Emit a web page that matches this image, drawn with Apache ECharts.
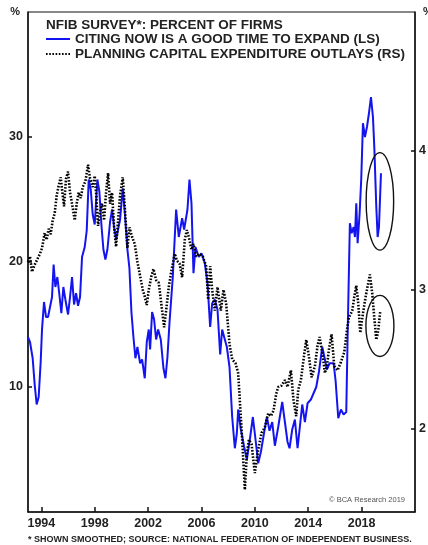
<!DOCTYPE html>
<html>
<head>
<meta charset="utf-8">
<script src="https://cdn.jsdelivr.net/npm/echarts@6/dist/echarts.min.js"></script>
<style>
html,body{margin:0;padding:0;background:#fff;}
#c{width:428px;height:545px;}
</style>
</head>
<body>
<div id="c"></div>
<script>
// ---- DATA ----
const titleText = 'NFIB SURVEY*: PERCENT OF FIRMS';
const expandName = 'CITING NOW IS A GOOD TIME TO EXPAND (LS)';
const capexName = 'PLANNING CAPITAL EXPENDITURE OUTLAYS (RS)';
const footText = '* SHOWN SMOOTHED; SOURCE: NATIONAL FEDERATION OF INDEPENDENT BUSINESS.';
const creditText = '\u00A9 BCA Research 2019';

const yearTicks = [1994, 1998, 2002, 2006, 2010, 2014, 2018];
const leftTicks = [10, 20, 30];
const rightTicks = [2, 3, 4];

// Good time to expand (LS, %)
const expandX = [1993.00,1993.15,1993.35,1993.50,1993.65,1993.80,1993.95,1994.05,1994.20,1994.35,1994.50,1994.65,1994.80,1994.92,1995.05,1995.20,1995.35,1995.50,1995.65,1995.80,1996.00,1996.15,1996.30,1996.45,1996.60,1996.75,1996.90,1997.05,1997.25,1997.40,1997.55,1997.70,1997.85,1998.00,1998.20,1998.35,1998.50,1998.65,1998.80,1998.95,1999.15,1999.30,1999.45,1999.60,1999.75,1999.90,2000.10,2000.25,2000.45,2000.60,2000.75,2000.90,2001.05,2001.20,2001.40,2001.55,2001.75,2001.90,2002.05,2002.15,2002.30,2002.45,2002.60,2002.75,2002.95,2003.15,2003.30,2003.45,2003.60,2003.85,2004.10,2004.30,2004.55,2004.70,2004.95,2005.10,2005.25,2005.40,2005.55,2005.80,2006.00,2006.25,2006.45,2006.65,2006.80,2007.00,2007.20,2007.40,2007.55,2007.75,2007.90,2008.10,2008.30,2008.50,2008.65,2008.75,2008.95,2009.20,2009.40,2009.65,2009.85,2010.05,2010.25,2010.45,2010.70,2010.90,2011.10,2011.30,2011.50,2011.75,2012.05,2012.25,2012.45,2012.60,2012.80,2013.00,2013.20,2013.40,2013.55,2013.75,2013.95,2014.20,2014.40,2014.60,2014.80,2015.05,2015.25,2015.40,2015.60,2015.90,2016.05,2016.25,2016.45,2016.65,2016.85,2016.95,2017.05,2017.12,2017.25,2017.40,2017.50,2017.60,2017.70,2017.85,2017.97,2018.10,2018.25,2018.40,2018.55,2018.70,2018.85,2018.95,2019.10,2019.20,2019.30,2019.45];
const expandY = [14.0,13.6,12.3,10.2,8.6,9.2,12.0,14.6,16.8,15.6,15.6,16.4,17.2,19.8,18.0,18.8,17.4,15.9,18.0,17.0,15.8,17.2,18.8,16.6,17.5,16.5,17.2,20.4,21.2,22.5,26.6,25.8,23.8,23.0,26.6,25.6,23.0,21.0,20.2,21.0,23.2,24.2,22.8,21.8,22.6,23.4,25.9,24.0,21.0,19.5,16.0,14.0,12.3,13.2,11.9,12.2,10.7,13.6,14.6,13.0,16.0,15.4,13.8,14.6,13.8,11.5,10.7,12.4,15.1,18.8,24.2,22.0,23.5,22.6,24.2,26.6,24.7,19.1,21.2,20.4,20.7,19.9,18.3,14.8,16.7,17.0,16.2,12.6,14.6,13.8,13.2,11.6,7.6,5.1,6.3,8.2,6.6,5.2,4.2,6.0,7.6,5.8,3.9,4.8,6.4,7.6,6.5,7.2,5.3,6.8,8.8,7.2,5.6,5.1,6.6,7.4,5.1,7.1,8.6,7.2,8.7,9.0,9.5,10.0,11.2,13.2,12.2,11.4,11.9,11.9,10.5,7.5,8.2,7.8,8.0,14.0,19.4,23.1,22.3,22.8,22.0,24.7,21.5,23.9,26.6,31.1,30.0,30.8,31.9,33.2,31.6,29.2,24.4,22.0,22.8,27.1];

// Capital expenditure plans (RS, %)
const capexX = [1993.00,1993.15,1993.30,1993.50,1993.70,1993.90,1994.05,1994.25,1994.40,1994.55,1994.70,1994.85,1995.00,1995.15,1995.30,1995.45,1995.55,1995.70,1995.85,1996.00,1996.15,1996.30,1996.50,1996.65,1996.80,1996.95,1997.10,1997.30,1997.50,1997.65,1997.85,1998.00,1998.10,1998.25,1998.40,1998.55,1998.70,1998.85,1999.00,1999.15,1999.30,1999.45,1999.60,1999.75,1999.90,2000.10,2000.25,2000.45,2000.60,2000.80,2001.00,2001.20,2001.40,2001.60,2001.75,2001.90,2002.05,2002.25,2002.40,2002.60,2002.80,2002.95,2003.20,2003.35,2003.55,2003.75,2004.00,2004.15,2004.35,2004.55,2004.75,2004.90,2005.05,2005.25,2005.40,2005.60,2005.85,2006.10,2006.35,2006.50,2006.65,2006.80,2007.00,2007.20,2007.45,2007.65,2007.85,2008.10,2008.30,2008.55,2008.75,2008.90,2009.05,2009.25,2009.40,2009.55,2009.75,2010.00,2010.25,2010.50,2010.75,2011.00,2011.20,2011.40,2011.60,2011.75,2012.00,2012.25,2012.45,2012.70,2012.90,2013.10,2013.25,2013.45,2013.65,2013.85,2014.05,2014.25,2014.50,2014.70,2014.85,2015.05,2015.25,2015.40,2015.55,2015.75,2015.95,2016.20,2016.45,2016.70,2016.90,2017.05,2017.30,2017.45,2017.60,2017.75,2017.90,2018.10,2018.30,2018.50,2018.62,2018.80,2018.95,2019.10,2019.25,2019.40];
const capexY = [3.20,3.24,3.13,3.18,3.22,3.26,3.30,3.41,3.36,3.44,3.40,3.50,3.55,3.68,3.75,3.81,3.72,3.60,3.80,3.85,3.70,3.62,3.50,3.62,3.70,3.66,3.74,3.78,3.90,3.80,3.74,3.82,3.70,3.46,3.56,3.62,3.50,3.70,3.84,3.62,3.70,3.45,3.31,3.50,3.68,3.81,3.60,3.30,3.45,3.38,3.33,3.20,3.10,3.00,2.95,2.89,3.00,3.10,3.15,3.07,3.05,2.93,2.73,2.85,3.02,3.14,3.26,3.21,3.19,3.09,3.36,3.43,3.38,3.29,3.33,3.24,3.26,3.24,3.17,2.93,3.17,3.00,2.85,3.02,2.85,3.00,2.90,2.61,2.50,2.47,2.40,2.16,1.92,1.56,1.82,1.92,1.89,1.68,1.85,1.97,2.01,2.11,2.09,2.13,2.25,2.30,2.31,2.35,2.30,2.42,2.20,2.09,2.28,2.35,2.50,2.64,2.52,2.37,2.45,2.60,2.66,2.55,2.40,2.45,2.57,2.68,2.45,2.42,2.48,2.55,2.71,2.80,2.85,2.95,3.03,2.90,2.69,2.83,2.95,3.05,3.11,2.97,2.80,2.64,2.71,2.85];

// Highlight ellipses: [centerYear, centerValue, halfWidthYears, halfHeightValue]
const expandCircle = [[2019.37, 24.85, 1.03, 3.9]];
const capexCircle = [[2019.37, 2.74, 1.05, 0.22]];

// ---- CHART ----
const zip = (xs, ys) => xs.map((x, i) => [x, ys[i]]);
const chart = echarts.init(document.getElementById('c'), null, {renderer: 'canvas'});
const FONT = 'Liberation Sans, Arial, sans-serif';
const ellipseRender = function (params, api) {
  const c = api.coord([api.value(0), api.value(1)]);
  const r = api.coord([api.value(0) + api.value(2), api.value(1) + api.value(3)]);
  return {
    type: 'ellipse',
    shape: {cx: c[0], cy: c[1], rx: Math.abs(r[0] - c[0]), ry: Math.abs(c[1] - r[1])},
    style: {fill: 'none', stroke: '#111', lineWidth: 1.4}
  };
};

chart.setOption({
  animation: false,
  backgroundColor: '#fff',
  textStyle: {fontFamily: FONT},
  title: [
    {text: titleText, left: 46, top: 18, padding: 0,
     textStyle: {fontSize: 13.5, fontWeight: 'bold', color: '#222', fontFamily: FONT}},
    {text: creditText, right: 23, top: 496, padding: 0,
     textStyle: {fontSize: 7.5, fontWeight: 'normal', color: '#555', fontFamily: FONT}},
    {text: footText, left: 28, top: 535, padding: 0,
     textStyle: {fontSize: 9, fontWeight: 'bold', color: '#222', fontFamily: FONT}}
  ],
  legend: {
    orient: 'vertical', left: 45, top: 32, padding: 0,
    itemWidth: 24, itemHeight: 10, itemGap: 1,
    itemStyle: {opacity: 0},
    textStyle: {fontSize: 13.5, lineHeight: 14, fontWeight: 'bold', color: '#222', fontFamily: FONT, padding: [0, 0, 0, 0]},
    data: [expandName, capexName]
  },
  grid: {left: 28, right: 13, top: 12, bottom: 33, show: true, borderColor: '#111', borderWidth: 1,
         containLabel: false, outerBoundsMode: 'none'},
  xAxis: {
    type: 'value', min: 1993, max: 2022,
    axisLine: {show: true, lineStyle: {color: '#111', width: 1.5}},
    axisTick: {show: true, inside: true, length: 5, lineStyle: {color: '#111', width: 1.5}, customValues: yearTicks},
    axisLabel: {customValues: yearTicks, formatter: v => String(v), fontSize: 12.5, fontWeight: 'bold', color: '#222', margin: 5, fontFamily: FONT},
    splitLine: {show: false}
  },
  yAxis: [
    {type: 'value', min: 0, max: 40, position: 'left',
     name: '%', nameLocation: 'end', nameGap: 0,
     nameTextStyle: {fontSize: 11, fontWeight: 'bold', color: '#222', align: 'right', verticalAlign: 'middle', padding: [0, 8, 0, 0]},
     axisLine: {show: true, lineStyle: {color: '#111', width: 1.5}},
     axisTick: {show: true, inside: true, length: 4, lineStyle: {color: '#111', width: 1.5}, customValues: leftTicks},
     axisLabel: {customValues: leftTicks, fontSize: 12.5, fontWeight: 'bold', color: '#222', margin: 5, fontFamily: FONT},
     splitLine: {show: false}},
    {type: 'value', min: 1.4, max: 5, position: 'right',
     name: '%', nameLocation: 'end', nameGap: 0,
     nameTextStyle: {fontSize: 11, fontWeight: 'bold', color: '#222', align: 'left', verticalAlign: 'middle', padding: [0, 0, 0, 8]},
     axisLine: {show: true, lineStyle: {color: '#111', width: 1.5}},
     axisTick: {show: true, inside: true, length: 4, lineStyle: {color: '#111', width: 1.5}, customValues: rightTicks},
     axisLabel: {customValues: rightTicks, fontSize: 12.5, fontWeight: 'bold', color: '#222', margin: 4, fontFamily: FONT},
     splitLine: {show: false}}
  ],
  series: [
    {name: expandName, type: 'line', yAxisIndex: 0, data: zip(expandX, expandY),
     symbol: 'none', lineStyle: {color: '#1414f0', width: 2}, itemStyle: {color: '#1414f0'}, z: 2},
    {name: capexName, type: 'line', yAxisIndex: 1, data: zip(capexX, capexY),
     symbol: 'none', lineStyle: {color: '#000', width: 2.6, type: [1.6, 1.6]}, itemStyle: {color: '#000'}, z: 3},
    {type: 'custom', yAxisIndex: 0, data: expandCircle, renderItem: ellipseRender, silent: true, z: 4},
    {type: 'custom', yAxisIndex: 1, data: capexCircle, renderItem: ellipseRender, silent: true, z: 4}
  ]
});
</script>
</body>
</html>
